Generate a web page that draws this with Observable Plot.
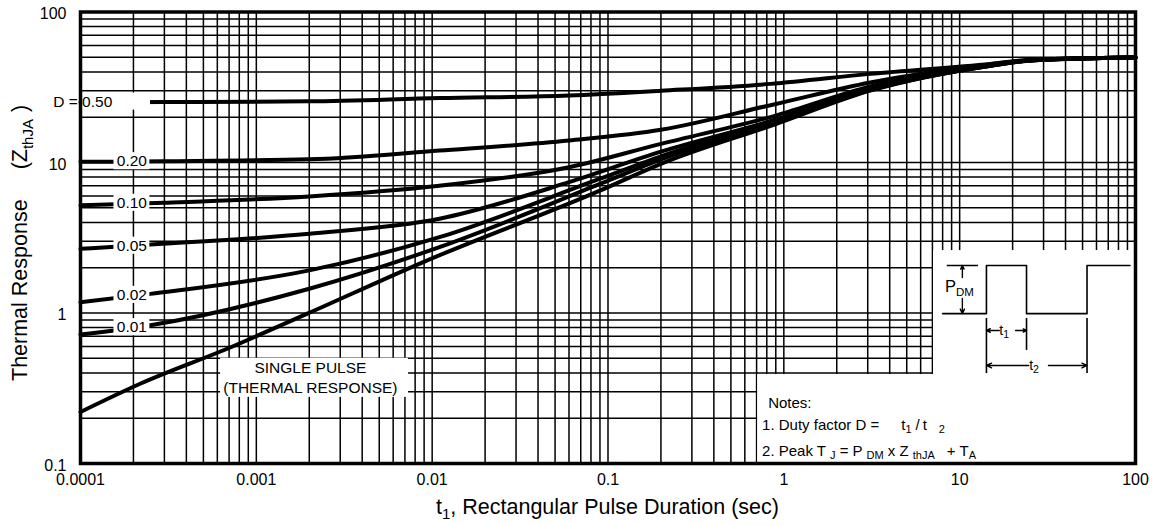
<!DOCTYPE html>
<html><head><meta charset="utf-8">
<script src="https://cdn.jsdelivr.net/npm/d3@7"></script>
<script src="https://cdn.jsdelivr.net/npm/@observablehq/plot@0.6"></script>
<style>
html,body{margin:0;padding:0;background:#fff;}
svg{font-family:"Liberation Sans",Arial,Helvetica,sans-serif;}
</style></head><body><div id="chart"></div>
<script>
// ---- tick labels ----
const xTicks = [1e-4, 1e-3, 0.01, 0.1, 1, 10, 100];
const xTickLabels = ["0.0001", "0.001", "0.01", "0.1", "1", "10", "100"];
const yTicks = [0.1, 1, 10, 100];
const yTickLabels = ["0.1", "1", "10", "100"];

// ---- series: [t1 (sec), Z_thJA] ----
const d050 = [[1e-4,25.1],[3e-4,25.2],[2e-3,25.5],[0.011,26.8],[0.06,27.9],[0.2,30],[0.84,33.3],[3.1,38.8],[15,45.2],[25,48],[100,49.8]];
const d020 = [[1e-4,10.1],[3e-4,10.2],[2e-3,10.5],[0.011,12.0],[0.06,14.0],[0.2,16.5],[0.9,24.5],[3.1,34],[15,45],[25,48],[100,49.8]];
const d010 = [[1e-4,5.2],[3e-4,5.4],[2e-3,5.95],[0.011,7.0],[0.06,9.3],[0.2,13.3],[0.9,20.5],[3.1,32],[15,44.5],[25,47.8],[100,49.8]];
const d005 = [[1e-4,2.67],[2.5e-4,2.85],[2e-3,3.36],[0.011,4.23],[0.06,7.4],[0.2,11.8],[0.9,19.3],[3.1,31],[15,44.2],[25,47.7],[100,49.8]];
const d002 = [[1e-4,1.18],[2.5e-4,1.34],[2e-3,1.92],[0.011,3.19],[0.09,7.8],[0.2,11],[0.9,18.8],[3.1,30.6],[15,44],[25,47.6],[100,49.8]];
const d001 = [[1e-4,0.72],[2.5e-4,0.83],[2e-3,1.45],[0.011,2.74],[0.09,7.2],[0.2,10.5],[0.9,18.4],[3.1,30.3],[15,44],[25,47.6],[100,49.8]];
const single = [[1e-4,0.22],[2.2e-4,0.34],[7.1e-4,0.59],[1.95e-3,0.99],[8.9e-3,2.18],[0.09,6.5],[0.2,9.8],[0.9,18],[3.1,30],[15,44],[25,47.5],[100,49.8]];

const seriesNames = ["0.50", "0.20", "0.10", "0.05", "0.02", "0.01", "single"];
const seriesPts = [d050, d020, d010, d005, d002, d001, single];

// ---- curve labels ----
const curveLabelText = ["D = 0.50", "0.20", "0.10", "0.05", "0.02", "0.01"];
const curveLabelX = [1.03e-4, 1.96e-4, 1.96e-4, 1.96e-4, 1.96e-4, 1.96e-4];
const curveLabelY = [25.4, 10.2, 5.4, 2.8, 1.32, 0.805];
const curveLabelAnchor = ["start", "middle", "middle", "middle", "middle", "middle"];
const curveBoxX1 = [1.0e-4, 1.55e-4, 1.55e-4, 1.55e-4, 1.55e-4, 1.55e-4];
const curveBoxX2 = [2.5e-4, 2.48e-4, 2.48e-4, 2.48e-4, 2.48e-4, 2.48e-4];

const singleText = "SINGLE PULSE\n(THERMAL RESPONSE)";

// ---- build tables ----
const rows = seriesNames.flatMap((s, i) => seriesPts[i].map(([t, z]) => ({series: s, t, z})));
const labels = curveLabelText.map((txt, i) => ({txt, x: curveLabelX[i], y: curveLabelY[i], anchor: curveLabelAnchor[i]}));
const boxes = curveLabelText.map((_, i) => ({x1: curveBoxX1[i], x2: curveBoxX2[i], y1: curveLabelY[i] / 1.14, y2: curveLabelY[i] * 1.14}))
  .concat([
    {x1: 6.26e-4, x2: 7.34e-3, y1: 0.275, y2: 0.5},   // single pulse label
    {x1: 7.1, x2: 100, y1: 0.1, y2: 2.6},             // pulse diagram area
    {x1: 0.71, x2: 100, y1: 0.1, y2: 0.39}            // notes area
  ]);

const gridX = d3.range(-4, 2).flatMap(e => d3.range(1, 10).map(k => k * Math.pow(10, e))).concat([100]);
const gridY = d3.range(-1, 2).flatMap(e => d3.range(1, 10).map(k => k * Math.pow(10, e))).concat([100]);

// pulse diagram (in chart units)
const hiLevel = 2.07, loLevel = 0.99;
const pulseWave = [[8.0,loLevel],[14.2,loLevel],[14.2,hiLevel],[24,hiLevel],[24,loLevel],[53,loLevel],[53,hiLevel],[93,hiLevel]];
const topTick = [{x1: 8.5, x2: 12.8, y: hiLevel}];
const markers = [{x: 14.2, y1: 0.92, y2: 0.396}, {x: 24, y1: 0.92, y2: 0.564}, {x: 53, y1: 0.92, y2: 0.396}];
const arrows = [
  {x1: 10.36, y1: 1.72, x2: 10.36, y2: hiLevel},
  {x1: 10.36, y1: 1.25, x2: 10.36, y2: loLevel},
  {x1: 16.8, y1: 0.765, x2: 14.2, y2: 0.765},
  {x1: 20.8, y1: 0.765, x2: 24, y2: 0.765},
  {x1: 24.7, y1: 0.448, x2: 14.2, y2: 0.448},
  {x1: 32, y1: 0.448, x2: 53, y2: 0.448}
];

const fmtX = new Map(xTicks.map((v, i) => [v, xTickLabels[i]]));
const fmtY = new Map(yTicks.map((v, i) => [v, yTickLabels[i]]));
const FONT = '"Liberation Sans", Arial, Helvetica, sans-serif';

const plot = Plot.plot({
  width: 1164, height: 526,
  marginLeft: 80, marginRight: 29, marginTop: 11.5, marginBottom: 63,
  style: {fontFamily: FONT, fontSize: "16px", color: "black", background: "white"},
  x: {type: "log", domain: [1e-4, 100]},
  y: {type: "log", domain: [0.1, 100]},
  marks: [
    Plot.ruleX(gridX, {stroke: "black", strokeWidth: 1.5}),
    Plot.ruleY(gridY, {stroke: "black", strokeWidth: 1.5}),
    Plot.line(rows, {x: "t", y: "z", z: "series", stroke: "black", strokeWidth: 4, curve: "monotone-x"}),
    Plot.rect(boxes, {x1: "x1", x2: "x2", y1: "y1", y2: "y2", fill: "white"}),
    Plot.text(labels, {x: "x", y: "y", text: "txt", textAnchor: "anchor", fontSize: 15.5, fill: "black"}),
    Plot.text([singleText], {x: () => 2.03e-3, y: () => 0.376, text: d => d, fontSize: 15.5, lineHeight: 1.25, fill: "black"}),
    Plot.line(pulseWave, {x: d => d[0], y: d => d[1], stroke: "black", strokeWidth: 1.6}),
    Plot.ruleY(topTick, {y: "y", x1: "x1", x2: "x2", stroke: "black", strokeWidth: 1.6}),
    Plot.ruleX(markers, {x: "x", y1: "y1", y2: "y2", stroke: "black", strokeWidth: 1.6}),
    Plot.arrow(arrows, {x1: "x1", y1: "y1", x2: "x2", y2: "y2", stroke: "black", strokeWidth: 1.4, headLength: 6, headAngle: 50}),
    Plot.axisX({ticks: xTicks, tickFormat: d => fmtX.get(d), tickSize: 0, tickPadding: 10, label: null, fontSize: 16}),
    Plot.axisY({ticks: yTicks, tickFormat: d => fmtY.get(d), tickSize: 0, tickPadding: 14, dy: 2, label: null, fontSize: 16}),
    Plot.frame({stroke: "black", strokeWidth: 3.5})
  ]
});

// ---- rich text (subscripts) ----
const svg = d3.select(plot);
function rich(x, y, segs, size, opts = {}) {
  const t = svg.append("text")
    .attr("x", x).attr("y", y)
    .attr("font-size", size).attr("fill", "black")
    .attr("font-family", FONT)
    .attr("text-anchor", opts.anchor || "start")
    .style("white-space", "pre");
  if (opts.transform) t.attr("transform", opts.transform);
  let shift = 0;
  for (const s of segs) {
    const [txt, subSize, subShift, dx] = s;
    const target = subSize ? subShift : 0;
    const sp = t.append("tspan").text(txt).attr("dy", target - shift);
    shift = target;
    if (subSize) sp.attr("font-size", subSize);
    if (dx) sp.attr("dx", dx);
  }
  return t;
}
const sx = plot.scale("x"), sy = plot.scale("y");
const X = v => sx.apply(v), Y = v => sy.apply(v);

// axis titles
const xMid = (sx.range[0] + sx.range[1]) / 2;
rich(xMid, 514, [["t"], ["1", 15, 5], [", Rectangular Pulse Duration (sec)"]], 21.5, {anchor: "middle"});
rich(0, 0, [["Thermal Response"], ["(Z", 0, 0, 30], ["thJA", 15, 6], [")", 0, 0, 7]], 21.5, {transform: "translate(27,381) rotate(-90)"});

// pulse diagram labels
rich(X(8.3), Y(1.37), [["P"], ["DM", 11.5, 4]], 16.5);
rich(X(16.9), Y(0.71), [["t"], ["1", 10.5, 3]], 14);
rich(X(25), Y(0.415), [["t"], ["2", 10.5, 3]], 14);

// notes
rich(X(0.82), Y(0.232), [["Notes:"]], 15);
rich(X(0.757), Y(0.1656), [["1. Duty factor D ="], ["t", 0, 0, 22], ["1", 11, 3], ["/", 0, 0, 4], ["t", 0, 0, 3], ["2", 11, 3, 12]], 15);
rich(X(0.757), Y(0.111), [["2. Peak T"], ["J", 11, 3, 4], [" = P "], ["DM", 11, 3], [" x Z "], ["thJA", 11, 3], ["+ T", 0, 0, 12], ["A", 11, 3]], 15);

document.getElementById("chart").appendChild(plot);
</script></body></html>
